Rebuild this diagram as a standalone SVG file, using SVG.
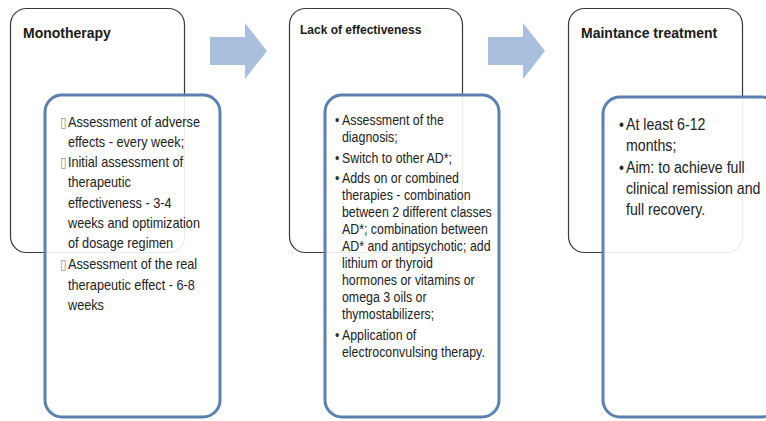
<svg xmlns="http://www.w3.org/2000/svg" width="766" height="421" viewBox="0 0 766 421">
  <style>
    .outer { fill: #ffffff; stroke: #3a3a3a; stroke-width: 1.2; }
    .inner { fill: #ffffff; fill-opacity: 0.9; stroke: #5b80b0; stroke-width: 3; }
    .title { font-family: "Liberation Sans", Arial, sans-serif; font-weight: bold; fill: #1a1a1a; }
    .body { font-family: "Liberation Sans", Arial, sans-serif; fill: #222222; }
    .sq { font-family: "DejaVu Sans", sans-serif; fill: #9a9a9a; }
    .blt { fill: #333333; }
    .arrow { fill: #aabfdd; }
  </style>
  <rect width="766" height="421" fill="#ffffff"/>

  <g id="monotherapy">
    <rect class="outer" x="10.5" y="8.5" width="174" height="244" rx="16"/>
    <text class="title" x="23" y="38" font-size="14">Monotherapy</text>
  </g>
  <g id="lack-of-effectiveness">
    <rect class="outer" x="289.5" y="8.5" width="173" height="244" rx="16"/>
    <text class="title" x="300" y="34" font-size="12">Lack of effectiveness</text>
  </g>
  <g id="maintance-treatment">
    <rect class="outer" x="568.5" y="8.5" width="174" height="244" rx="16"/>
    <text class="title" x="581" y="38" font-size="14">Maintance treatment</text>
  </g>

  <g id="monotherapy-details">
    <rect class="inner" x="45" y="95" width="175" height="322" rx="17"/>
    <text class="body" font-size="14.2" transform="translate(60,0) scale(0.895,1)">
      <tspan class="sq" x="0" y="127" font-size="14">▯</tspan><tspan x="8.9" y="127">Assessment of adverse</tspan>
      <tspan x="8.9" y="147">effects - every week;</tspan>
      <tspan class="sq" x="0" y="167" font-size="14">▯</tspan><tspan x="8.9" y="167">Initial assessment of</tspan>
      <tspan x="8.9" y="187">therapeutic</tspan>
      <tspan x="8.9" y="208">effectiveness - 3-4</tspan>
      <tspan x="8.9" y="228">weeks and optimization</tspan>
      <tspan x="8.9" y="248">of dosage regimen</tspan>
      <tspan class="sq" x="0" y="269" font-size="14">▯</tspan><tspan x="8.9" y="269">Assessment of the real</tspan>
      <tspan x="8.9" y="290">therapeutic effect - 6-8</tspan>
      <tspan x="8.9" y="310">weeks</tspan>
    </text>
  </g>

  <g id="lack-of-effectiveness-details">
    <rect class="inner" x="325" y="95" width="174" height="322" rx="17"/>
    <text class="body" font-size="14" transform="translate(335,0) scale(0.885,1)">
      <tspan class="blt" x="0" y="125">•</tspan><tspan x="7.9" y="125">Assessment of the</tspan>
      <tspan x="7.9" y="142">diagnosis;</tspan>
      <tspan class="blt" x="0" y="163">•</tspan><tspan x="7.9" y="163">Switch to other AD*;</tspan>
      <tspan class="blt" x="0" y="183">•</tspan><tspan x="7.9" y="183">Adds on or combined</tspan>
      <tspan x="7.9" y="200">therapies - combination</tspan>
      <tspan x="7.9" y="217">between 2 different classes</tspan>
      <tspan x="7.9" y="234">AD*; combination between</tspan>
      <tspan x="7.9" y="251">AD* and antipsychotic; add</tspan>
      <tspan x="7.9" y="268">lithium or thyroid</tspan>
      <tspan x="7.9" y="285">hormones or vitamins or</tspan>
      <tspan x="7.9" y="302">omega 3 oils or</tspan>
      <tspan x="7.9" y="319">thymostabilizers;</tspan>
      <tspan class="blt" x="0" y="340">•</tspan><tspan x="7.9" y="340">Application of</tspan>
      <tspan x="7.9" y="357">electroconvulsing therapy.</tspan>
    </text>
  </g>

  <g id="maintance-treatment-details">
    <rect class="inner" x="603" y="97" width="176" height="320" rx="17"/>
    <text class="body" font-size="16" transform="translate(619,0) scale(0.885,1)">
      <tspan x="0" y="130">•</tspan><tspan x="7.9" y="130">At least 6-12</tspan>
      <tspan x="7.9" y="151">months;</tspan>
      <tspan x="0" y="173">•</tspan><tspan x="7.9" y="173">Aim: to achieve full</tspan>
      <tspan x="7.9" y="194">clinical remission and</tspan>
      <tspan x="7.9" y="215">full recovery.</tspan>
    </text>
  </g>

  <g id="connectors">
    <path class="arrow" d="M210,37 H245 V23 L267,51 L245,79 V65 H210 Z"/>
    <path class="arrow" d="M488,37 H523 V23 L545,51 L523,79 V65 H488 Z"/>
  </g>
</svg>
